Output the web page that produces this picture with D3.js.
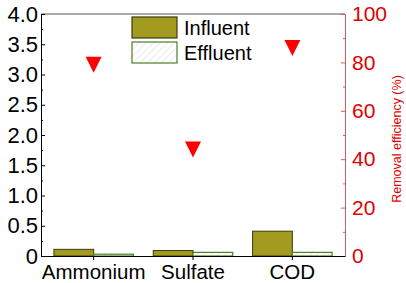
<!DOCTYPE html>
<meta charset="utf-8">
<script src="https://d3js.org/d3.v7.min.js"></script>
<style>
  body { margin: 0; background: #fff; }
  text { font-family: Arial, "Liberation Sans", sans-serif; }
</style>
<div id="chart"></div>
<script>
// data
var categories = ["Ammonium", "Sulfate", "COD"];
var influent = [0.11, 0.09, 0.41];
var effluent = [0.03, 0.06, 0.06];
var removal = [79, 44, 86];
var seriesNames = ["Influent", "Effluent"];

var margin = {top: 14, right: 61, bottom: 27, left: 41},
    width = 406 - margin.left - margin.right,
    height = 283 - margin.top - margin.bottom;

var svg = d3.select("#chart").append("svg")
    .attr("width", 406).attr("height", 283);

var defs = svg.append("defs");
var pat = defs.append("pattern")
    .attr("id", "hatch").attr("patternUnits", "userSpaceOnUse")
    .attr("width", 5).attr("height", 5)
    .attr("patternTransform", "rotate(45)");
pat.append("rect").attr("width", 5).attr("height", 5).attr("fill", "#fff");
pat.append("line").attr("x1", 0).attr("y1", 0).attr("x2", 0).attr("y2", 5)
    .attr("stroke", "#d8d8d8").attr("stroke-width", 1);

var g = svg.append("g")
    .attr("transform", "translate(" + margin.left + "," + margin.top + ")");

var x = d3.scaleBand().domain(categories).range([0, width])
    .paddingInner(0).paddingOuter(0.03);
var y = d3.scaleLinear().domain([0, 4]).range([height, 0]);
var y2 = d3.scaleLinear().domain([0, 100]).range([height, 0]);
var barW = x.bandwidth() * 0.4;

// top frame line
g.append("line").attr("x1", 0).attr("x2", width).attr("y1", 0).attr("y2", 0)
    .attr("stroke", "#555").attr("stroke-width", 1);

// bars
g.selectAll(".inf").data(influent).enter().append("rect")
    .attr("x", function(d, i) { return x(categories[i]) + x.bandwidth() / 2 - barW; })
    .attr("y", function(d) { return y(d); })
    .attr("width", barW)
    .attr("height", function(d) { return height - y(d); })
    .attr("fill", "#a39b1f").attr("stroke", "#3d3a10").attr("stroke-width", 1);

g.selectAll(".eff").data(effluent).enter().append("rect")
    .attr("x", function(d, i) { return x(categories[i]) + x.bandwidth() / 2; })
    .attr("y", function(d) { return y(d); })
    .attr("width", barW)
    .attr("height", function(d) { return height - y(d); })
    .attr("fill", "url(#hatch)").attr("stroke", "#4c7d24").attr("stroke-width", 1.2);

// left axis
var yAxis = g.append("g")
    .call(d3.axisLeft(y).tickValues(d3.range(0, 4.01, 0.5)).tickSize(-4).tickPadding(4)
      .tickFormat(function(d) { return d === 0 ? "0" : d3.format(".1f")(d); }));
yAxis.selectAll("text").attr("font-size", 22).attr("fill", "#000").attr("x", -3);
yAxis.select(".domain").attr("stroke", "#000");
g.append("g")
    .call(d3.axisLeft(y).tickValues(d3.range(0.25, 4, 0.5)).tickSize(-2).tickFormat(""))
    .select(".domain").remove();

// right axis
var rAxis = g.append("g").attr("transform", "translate(" + width + ",0)")
    .call(d3.axisRight(y2).tickValues(d3.range(0, 101, 20)).tickSize(-4).tickPadding(4));
rAxis.selectAll("text").attr("font-size", 21).attr("fill", "#e00000").attr("x", 7);
rAxis.selectAll("line").attr("stroke", "#c86060");
rAxis.select(".domain").attr("stroke", "#c86060");
var rMinor = g.append("g").attr("transform", "translate(" + width + ",0)")
    .call(d3.axisRight(y2).tickValues(d3.range(10, 100, 20)).tickSize(-2).tickFormat(""));
rMinor.select(".domain").remove();
rMinor.selectAll("line").attr("stroke", "#c86060");

svg.append("text")
    .attr("transform", "translate(401," + (margin.top + y2(50) + 4) + ") rotate(-90)")
    .attr("text-anchor", "middle").attr("font-size", 12.5).attr("fill", "#e00000")
    .text("Removal efficiency (%)");

// bottom axis
var xAxis = g.append("g").attr("transform", "translate(0," + height + ")")
    .call(d3.axisBottom(x).tickSize(4).tickPadding(4).tickSizeOuter(0));
xAxis.selectAll("text").attr("font-size", 20.5).attr("fill", "#000");
xAxis.select(".domain").attr("stroke", "#000");

// removal efficiency markers
g.selectAll(".tri").data(removal).enter().append("path")
    .attr("transform", function(d, i) {
      return "translate(" + (x(categories[i]) + x.bandwidth() / 2) + "," + y2(d) + ")";
    })
    .attr("d", "M-8,-8L8,-8L0,8Z")
    .attr("fill", "#ff0000");

// legend
var legend = svg.append("g").attr("transform", "translate(132,17)");
var swatch = legend.selectAll("g").data(seriesNames).enter().append("g")
    .attr("transform", function(d, i) { return "translate(0," + (i * 25) + ")"; });
swatch.append("rect").attr("width", 45).attr("height", 21)
    .attr("fill", function(d, i) { return i === 0 ? "#a39b1f" : "url(#hatch)"; })
    .attr("stroke", function(d, i) { return i === 0 ? "#3d3a10" : "#4c7d24"; })
    .attr("stroke-width", 1.2);
swatch.append("text").attr("x", 52).attr("y", 18).attr("font-size", 20)
    .text(function(d) { return d; });
</script>
